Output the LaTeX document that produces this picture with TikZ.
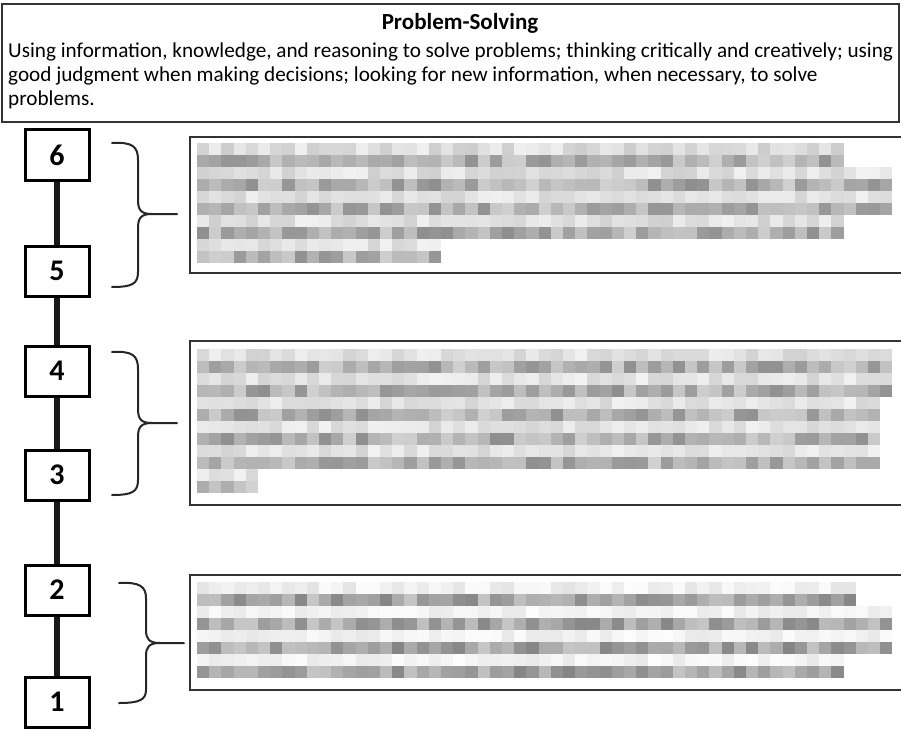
\documentclass[tikz,border=0pt]{standalone}
\usepackage{fontspec}
\setmainfont{Carlito}
\begin{document}
\begin{tikzpicture}[x=1pt,y=-1pt,
  numbox/.style={draw=black,line width=3pt,minimum width=64pt,minimum height=50pt,inner sep=0pt,font=\fontsize{30}{34}\selectfont\bfseries},
  descbox/.style={draw=black!80,line width=2pt,inner sep=0pt},
  scaleline/.style={line width=6pt,black!90},
  bracepath/.style={line width=2pt,black!85,line cap=round}]
\useasboundingbox (0,0) rectangle (901,730);
\pgfmathsetseed{4711}
\newcommand\mosrow[5]{%
  \foreach \c in {1,...,#3}{%
    \pgfmathsetmacro\g{#4+rnd*#5}%
    \fill[black!\g] ({#1+(\c-1)*12.2},#2) rectangle +(12.2,12);
  }}
% top box
\draw[descbox] (2,4) rectangle (899,122);
\node[anchor=north,inner sep=0pt,font=\fontsize{23}{27}\selectfont\bfseries] (title) at (460,13) {Problem-Solving};
\node[anchor=north west,inner sep=0pt,align=left,font=\fontsize{21.2}{24}\selectfont] (desc) at (8,43)
 {Using information, knowledge, and reasoning to solve problems; thinking critically and creatively; using\\
  good judgment when making decisions; looking for new information, when necessary, to solve\\
  problems.};
% number boxes
\node[numbox] (n6) at (57,155) {6};
\node[numbox] (n5) at (57,271) {5};
\node[numbox] (n4) at (57,371) {4};
\node[numbox] (n3) at (57,475) {3};
\node[numbox] (n2) at (57,590) {2};
\node[numbox] (n1) at (57,702) {1};
\draw[scaleline] (n6) -- (n5);
\draw[scaleline] (n5) -- (n4);
\draw[scaleline] (n4) -- (n3);
\draw[scaleline] (n3) -- (n2);
\draw[scaleline] (n2) -- (n1);
% braces
\coordinate (t1) at (177,214);
\draw[bracepath] (112,143) .. controls (132,142) and (138,146) .. (138,160) -- (138,200)
  .. controls (138,210) and (141,214) .. (152,214) -- (t1);
\draw[bracepath] (152,214) .. controls (141,214) and (138,218) .. (138,228) -- (138,272)
  .. controls (138,284) and (132,287) .. (112,287);
\coordinate (t2) at (177,423);
\draw[bracepath] (112,352) .. controls (132,351) and (138,355) .. (138,369) -- (138,409)
  .. controls (138,419) and (141,423) .. (152,423) -- (t2);
\draw[bracepath] (152,423) .. controls (141,423) and (138,427) .. (138,437) -- (138,480)
  .. controls (138,492) and (132,495) .. (112,495);
\coordinate (t3) at (184,643);
\draw[bracepath] (119,583) .. controls (139,582) and (146,586) .. (146,598) -- (146,630)
  .. controls (146,639) and (149,643) .. (160,643) -- (t3);
\draw[bracepath] (160,643) .. controls (149,643) and (146,647) .. (146,656) -- (146,690)
  .. controls (146,700) and (139,703) .. (119,703);
% description boxes (mosaic)
\mosrow{197}{143}{53}{6}{14}
\mosrow{197}{155}{53}{18}{26}
\mosrow{197}{167}{57}{5}{14}
\mosrow{197}{179}{57}{18}{26}
\mosrow{197}{191}{57}{5}{12}
\mosrow{197}{203}{57}{18}{26}
\mosrow{197}{215}{53}{5}{14}
\mosrow{197}{227}{53}{18}{26}
\mosrow{197}{239}{20}{5}{12}
\mosrow{197}{251}{20}{18}{26}
\draw[descbox] (190,137) rectangle (905,273);
\mosrow{197}{349}{57}{6}{12}
\mosrow{197}{361}{57}{18}{26}
\mosrow{197}{373}{57}{5}{12}
\mosrow{197}{385}{57}{18}{26}
\mosrow{197}{397}{56}{5}{12}
\mosrow{197}{409}{56}{18}{26}
\mosrow{197}{421}{56}{5}{12}
\mosrow{197}{433}{56}{18}{26}
\mosrow{197}{445}{56}{5}{12}
\mosrow{197}{457}{56}{18}{26}
\mosrow{197}{469}{5}{5}{12}
\mosrow{197}{481}{5}{16}{22}
\draw[descbox] (190,341) rectangle (905,505);
\mosrow{197}{582}{54}{1}{10}
\mosrow{197}{594}{54}{22}{26}
\mosrow{197}{606}{57}{1}{8}
\mosrow{197}{618}{57}{22}{26}
\mosrow{197}{630}{57}{1}{8}
\mosrow{197}{642}{57}{22}{26}
\mosrow{197}{654}{53}{1}{8}
\mosrow{197}{666}{53}{22}{26}
\draw[descbox] (190,575) rectangle (905,690);
\end{tikzpicture}
\end{document}
